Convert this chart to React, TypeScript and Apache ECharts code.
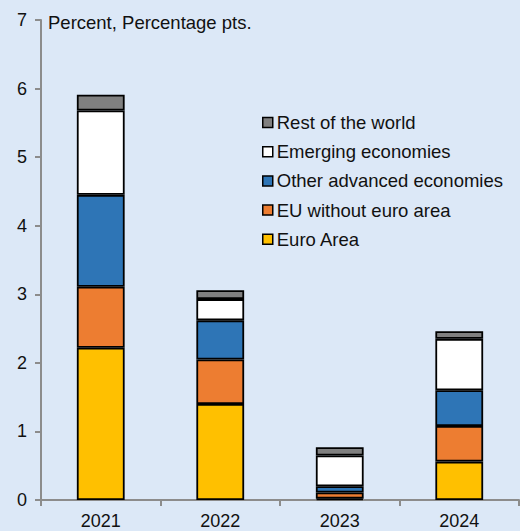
import React, { useEffect, useRef } from "react";
import * as echarts from "echarts";

const categories = ["2021", "2022", "2023", "2024"];
const euroArea = [2.22, 1.4, 0.02, 0.56];
const euWithoutEuro = [0.89, 0.65, 0.09, 0.52];
const otherAdvanced = [1.34, 0.57, 0.09, 0.52];
const emerging = [1.23, 0.31, 0.45, 0.75];
const restOfWorld = [0.23, 0.13, 0.12, 0.11];
const yTicks = [0, 1, 2, 3, 4, 5, 6, 7];

const seriesDefs = [
  { name: "Euro Area", data: euroArea, color: "#FFC000" },
  { name: "EU without euro area", data: euWithoutEuro, color: "#ED7D31" },
  { name: "Other advanced economies", data: otherAdvanced, color: "#2E75B6" },
  { name: "Emerging economies", data: emerging, color: "#FFFFFF" },
  { name: "Rest of the world", data: restOfWorld, color: "#808080" },
];

const FONT = "'Liberation Sans', Arial, sans-serif";

export default function App() {
  const ref = useRef<HTMLDivElement>(null);
  useEffect(() => {
    if (!ref.current) return;
    const chart = echarts.init(ref.current, undefined, { renderer: "svg" });
    chart.setOption({
      animation: false,
      backgroundColor: "#DCE8F7",
      textStyle: { fontFamily: FONT },
      title: {
        text: "Percent, Percentage pts.",
        left: 43,
        top: 8,
        textStyle: { fontFamily: FONT, fontSize: 18.5, fontWeight: "normal", color: "#111" },
      },
      legend: {
        orient: "vertical",
        left: 257,
        top: 108,
        itemGap: 10.2,
        itemWidth: 10,
        itemHeight: 10,
        icon: "rect",
        data: seriesDefs.map((s) => s.name).reverse(),
        textStyle: {
          fontFamily: FONT,
          fontSize: 18.5,
          color: "#111",
          padding: [0, 0, 0, -1],
        },
        itemStyle: { borderColor: "#000", borderWidth: 1.5 },
      },
      grid: { left: 41, right: 1, top: 20, bottom: 31, containLabel: false },
      xAxis: {
        type: "category",
        data: categories,
        axisLine: { lineStyle: { color: "#8C8C8C", width: 2 } },
        axisTick: { show: true, alignWithLabel: false, length: 6, lineStyle: { color: "#8C8C8C", width: 2 } },
        axisLabel: { fontFamily: FONT, fontSize: 18, color: "#111", margin: 12 },
      },
      yAxis: {
        type: "value",
        min: yTicks[0],
        max: yTicks[yTicks.length - 1],
        interval: 1,
        splitLine: { show: false },
        axisLine: { show: true, lineStyle: { color: "#8C8C8C", width: 2 } },
        axisTick: { show: true, length: 6, lineStyle: { color: "#8C8C8C", width: 2 } },
        axisLabel: { fontFamily: FONT, fontSize: 18, color: "#111", margin: 14 },
      },
      series: seriesDefs.map((s) => ({
        name: s.name,
        type: "bar",
        stack: "total",
        data: s.data,
        barWidth: "40%",
        itemStyle: { color: s.color, borderColor: "#000", borderWidth: 1.8 },
      })),
    });
    return () => chart.dispose();
  }, []);
  return (
    <div
      ref={ref}
      style={{ position: "fixed", left: 0, top: 0, width: 520, height: 531 }}
    />
  );
}
